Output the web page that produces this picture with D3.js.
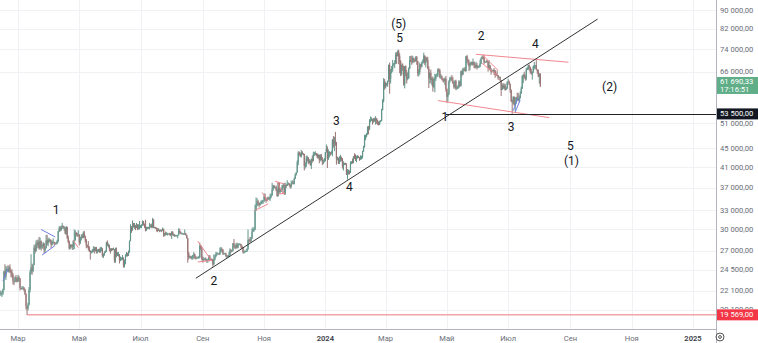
<!DOCTYPE html>
<html>
<head>
<meta charset="utf-8">
<script src="https://cdn.jsdelivr.net/npm/d3@7"></script>
<style>
  html, body { margin: 0; padding: 0; background: #fff; }
  svg { display: block; font-family: Roboto, "Liberation Sans", sans-serif; }
</style>
</head>
<body>
<svg id="chart" width="758" height="343"></svg>
<script>
// BTC daily candles, values in thousands of USD, grouped by month.
const monthStarts = [
  "2023-02-11","2023-03-01","2023-04-01","2023-05-01","2023-06-01","2023-07-01",
  "2023-08-01","2023-09-01","2023-10-01","2023-11-01","2023-12-01","2024-01-01",
  "2024-02-01","2024-03-01","2024-04-01","2024-05-01","2024-06-01","2024-07-01","2024-08-01"
];
const firstOpen = 21.9;

const closeK = [
  [21.8,21.8,21.8,22.2,24.3,23.7,24.6,24.6,24.3,24.8,24.4,24.2,23.9,23.2,23.1,23.6,23.5,23.1],
  [23.6,23.5,22.4,22.3,22.4,22.4,22.2,21.7,20.4,20.2,20.6,22.2,24.2,24.8,24.4,25.1,27.4,26.9,28.0,27.8,28.2,27.3,28.3,27.5,27.5,28.0,27.1,27.3,28.4,28.0,28.5],
  [28.5,28.2,27.8,28.2,28.2,28.0,27.9,28.0,28.3,29.7,30.2,29.9,30.4,30.5,30.3,30.3,29.4,30.4,28.8,28.2,27.3,27.8,27.6,27.5,28.3,28.4,29.5,29.3,29.2,29.2],
  [28.1,28.7,29.0,28.8,29.5,28.9,28.4,27.7,27.6,27.4,27.0,26.8,26.8,26.9,27.2,27.0,27.4,26.8,26.9,27.1,26.8,27.2,27.3,26.3,26.5,26.7,26.9,28.1,27.7,27.7,27.2],
  [27.0,27.3,27.1,27.2,25.7,27.2,26.3,26.5,26.5,25.8,25.9,25.9,25.9,25.1,25.6,26.3,26.5,26.3,26.8,28.3,30.0,29.9,30.7,30.5,30.5,30.3,30.7,30.1,30.4,30.5],
  [30.6,30.6,31.2,30.8,30.5,29.9,30.3,30.3,30.2,30.4,30.6,30.4,31.5,30.3,30.3,30.2,30.1,29.9,29.9,29.8,29.9,29.8,30.1,29.2,29.4,29.2,29.3,29.3,29.4,29.3,29.2],
  [29.7,29.2,29.2,29.1,29.1,29.1,29.2,29.8,29.6,29.4,29.4,29.4,29.3,29.4,29.2,28.7,26.6,26.1,26.2,26.1,26.1,26.4,26.5,26.2,26.0,26.0,26.1,26.1,27.7,27.3,25.9],
  [25.8,25.9,25.9,25.8,25.8,25.8,26.2,25.9,25.9,25.8,25.2,25.8,26.2,26.5,26.6,26.6,26.5,26.8,27.2,27.1,26.6,26.6,26.6,26.3,26.3,26.2,26.4,27.0,26.9,27.0],
  [28.0,27.5,27.4,27.8,27.4,27.9,27.9,27.9,27.6,27.4,26.8,26.8,26.9,26.9,27.2,28.5,28.4,28.3,28.7,29.7,30.0,30.0,33.1,33.9,34.5,34.2,33.9,34.1,34.5,34.5,34.7],
  [35.4,34.9,34.7,35.1,35.0,35.0,35.4,35.6,36.7,37.3,37.1,37.1,36.5,35.5,37.9,36.2,36.6,36.6,37.4,37.5,35.8,37.4,37.3,37.7,37.8,37.5,37.2,37.8,37.9,37.7],
  [38.7,39.5,39.9,42.0,44.1,43.8,43.3,44.2,43.8,43.8,41.2,41.5,42.9,43.0,41.9,42.3,41.4,42.7,42.3,43.7,43.9,44.0,43.7,43.0,43.6,42.5,43.4,42.6,42.1,42.1,42.3],
  [44.2,45.0,42.8,44.2,44.2,43.9,43.9,46.9,46.1,46.6,46.3,42.8,42.8,41.7,42.5,43.1,42.7,41.3,41.6,41.7,41.6,39.5,39.9,40.1,39.9,41.8,42.1,42.0,43.3,42.9,42.6],
  [43.1,43.2,43.0,42.6,42.7,43.1,44.3,45.3,47.1,47.8,48.3,50.0,49.7,51.8,52.0,52.1,51.6,52.1,51.8,52.3,51.8,51.3,50.7,51.6,51.7,54.5,57.1,62.5,61.2],
  [62.4,62.0,63.1,68.3,63.8,66.1,66.9,68.3,68.5,69.0,72.1,71.5,73.1,71.4,69.5,65.3,68.4,67.6,62.0,67.9,65.5,63.8,64.0,67.2,70.0,69.9,69.5,70.8,69.9,69.6,71.3],
  [69.7,65.5,66.0,68.5,67.8,68.9,69.4,71.6,69.1,70.6,70.0,67.1,63.9,65.7,63.4,63.8,61.3,63.5,63.8,64.9,64.9,66.8,66.4,64.3,64.5,63.8,63.4,63.1,63.8,60.6],
  [58.3,59.1,62.9,63.9,64.0,63.2,62.3,61.2,63.0,60.8,60.8,61.5,62.9,61.6,66.2,65.2,67.0,67.0,66.3,71.4,70.1,69.1,67.9,68.5,69.3,68.5,69.4,68.3,67.6,68.3,67.5],
  [67.7,67.8,68.8,70.5,71.1,70.8,69.3,69.3,69.6,69.5,67.3,68.2,66.8,66.0,66.2,66.6,66.5,65.2,65.0,64.9,64.1,64.3,63.2,60.3,61.8,60.9,61.6,60.3,60.9,62.7],
  [62.8,62.0,60.2,57.0,56.7,58.2,55.9,56.7,58.0,57.7,57.3,57.9,59.2,60.8,64.7,65.0,64.1,63.9,66.7,67.1,68.2,67.6,65.9,65.4,65.8,67.9,68.0,68.2,66.8,66.2,64.6],
  [65.3,61.69033]
];
const highK = [
  [22.1,22.1,22.0,22.3,24.4,25.2,25.0,24.9,25.1,25.0,25.2,24.5,24.6,24.1,23.2,23.7,23.9,23.6],
  [23.9,23.8,23.5,22.4,22.6,22.6,22.5,22.3,21.8,20.3,20.8,22.5,24.5,26.5,25.3,25.2,27.8,27.8,28.4,28.5,28.5,28.9,28.8,28.4,27.8,28.2,28.0,27.5,29.2,29.2,28.7],
  [28.8,28.6,28.5,28.4,28.7,28.2,28.1,28.2,28.5,29.8,30.5,30.5,30.6,31.0,30.6,30.5,30.3,30.5,30.4,29.1,28.4,27.9,27.8,27.9,28.4,30.0,29.9,29.6,29.5,29.9],
  [29.3,28.9,29.3,29.3,29.7,29.8,29.1,28.6,27.8,28.3,27.6,26.9,27.0,27.2,27.6,27.5,27.5,27.5,27.2,27.2,27.3,27.5,27.5,27.3,26.6,26.9,27.0,28.2,28.4,28.0,27.8],
  [27.3,27.3,27.3,27.4,27.2,27.4,27.4,26.8,26.8,26.5,26.2,26.1,26.4,26.1,25.8,26.5,26.8,26.7,27.0,28.4,30.8,30.5,31.4,31.0,31.0,30.7,31.0,30.8,30.8,31.3],
  [30.7,30.8,31.4,31.3,30.9,31.5,30.4,30.4,30.4,31.0,30.8,30.9,31.8,31.6,30.4,30.4,30.3,30.2,30.2,30.0,30.0,30.0,30.3,30.1,29.5,29.7,29.6,29.5,29.4,29.5,29.5],
  [29.7,29.7,29.4,29.3,29.2,29.2,29.2,30.2,30.1,29.7,29.5,29.5,29.4,30.0,29.5,29.2,28.8,26.8,26.3,26.3,26.3,26.4,26.8,26.6,26.3,26.1,26.2,26.3,28.1,27.6,27.5],
  [26.2,26.1,26.0,26.1,25.9,25.9,26.4,26.4,26.0,25.9,25.9,26.5,26.4,26.8,26.8,26.7,26.6,27.4,27.5,27.4,27.2,26.7,26.7,26.7,26.4,26.4,26.8,27.3,27.2,27.1],
  [28.0,28.6,27.6,28.0,28.1,28.0,28.0,28.0,27.9,27.7,27.5,26.9,27.1,26.9,27.3,30.0,28.6,28.9,28.9,30.2,30.4,30.2,34.0,35.2,35.1,34.8,34.3,34.4,34.7,34.8,34.7],
  [35.9,35.9,34.9,35.3,35.4,35.3,35.9,35.9,37.9,37.5,37.5,37.2,37.4,36.8,38.0,37.9,36.8,36.9,37.5,37.7,37.9,37.9,37.6,38.4,38.0,37.8,37.6,38.3,38.4,38.2],
  [38.9,39.7,40.0,42.4,44.4,44.3,44.0,44.7,44.4,44.0,43.8,42.0,43.4,43.4,43.1,42.7,42.4,42.8,43.4,44.3,44.2,44.4,44.0,43.9,43.7,43.6,43.7,43.8,43.1,42.6,42.9],
  [44.2,45.9,45.5,44.8,44.4,44.2,44.5,47.2,47.9,47.7,48.9,46.5,43.2,43.0,43.3,43.6,43.2,42.9,42.2,41.9,41.9,41.8,40.6,40.5,40.3,42.2,42.2,42.8,43.3,43.9,43.7],
  [43.4,43.5,43.4,43.1,43.5,43.4,44.5,45.6,48.2,48.2,48.6,50.3,50.4,52.1,52.8,52.6,52.2,52.4,52.5,52.9,52.4,52.0,51.5,51.7,51.9,54.9,57.6,64.0,63.7],
  [62.9,62.4,63.2,68.5,69.2,67.0,68.0,70.1,69.0,70.0,72.8,72.9,73.6,73.8,72.4,70.0,68.5,68.9,68.0,68.0,68.2,66.6,65.9,67.5,71.5,71.5,71.7,71.5,70.9,70.3,71.3],
  [71.4,69.6,66.9,69.2,68.7,69.6,70.3,72.7,71.7,71.2,71.2,71.2,67.9,65.8,66.8,64.3,64.5,64.1,65.4,65.3,65.6,67.2,67.2,67.0,65.3,64.8,63.9,64.0,64.2,64.7],
  [60.8,59.6,63.3,64.4,64.5,65.0,64.4,62.9,63.4,63.5,61.4,61.8,63.4,63.1,66.4,66.7,67.4,67.4,67.7,71.5,71.9,70.6,70.1,69.2,69.5,69.5,70.6,69.5,68.9,69.5,69.0],
  [68.0,68.4,70.2,71.0,71.7,71.6,71.9,69.5,69.9,70.2,69.6,70.0,68.4,67.3,66.6,66.9,67.3,66.6,65.7,66.5,65.0,64.5,64.5,63.4,62.3,62.4,62.3,62.2,61.2,63.0],
  [63.8,63.2,62.3,60.5,57.5,58.5,58.4,58.2,58.3,59.5,59.4,58.6,59.9,61.4,64.9,65.4,66.1,65.1,67.4,67.6,68.4,68.5,67.8,67.1,66.2,68.2,69.4,68.3,70.0,66.9,66.8],
  [65.6,65.6]
];
const lowK = [
  [21.6,21.5,21.4,21.6,22.1,23.5,23.3,24.4,24.2,24.2,24.1,23.6,23.6,22.8,22.7,23.0,23.1,23.0],
  [23.1,23.2,22.1,22.2,22.2,22.2,22.0,21.6,20.1,19.569,20.0,20.5,21.9,24.0,23.9,24.2,25.1,26.6,26.9,27.3,27.4,27.1,27.2,27.0,27.2,27.4,26.6,26.7,27.3,27.7,27.6],
  [28.2,28.0,27.3,27.7,28.0,27.7,27.8,27.8,27.9,28.1,29.6,29.7,29.8,30.1,30.1,29.8,29.3,29.2,28.6,28.0,27.1,27.2,27.4,27.1,27.1,27.2,28.9,29.0,28.9,29.0],
  [27.7,27.9,28.4,28.7,28.7,28.8,28.1,27.3,27.4,27.0,26.8,25.8,26.6,26.7,26.8,26.6,26.9,26.6,26.6,26.8,26.7,26.7,26.9,26.1,26.0,26.3,26.7,26.8,27.6,27.4,26.9],
  [26.6,26.9,27.0,27.1,25.4,25.4,26.1,26.3,26.2,25.3,25.6,25.7,25.8,24.8,24.8,25.2,26.2,26.2,26.3,26.7,28.3,29.5,29.8,30.3,30.1,29.9,30.2,29.9,30.0,30.0],
  [30.2,30.2,30.6,30.6,30.2,29.7,29.8,30.1,30.1,30.0,30.3,30.2,30.2,30.2,30.2,30.1,29.7,29.6,29.8,29.6,29.7,29.6,29.8,28.9,29.0,29.1,29.2,29.1,29.3,29.1,29.0],
  [28.6,29.1,29.0,28.9,29.0,29.0,28.7,29.1,29.4,29.3,29.3,29.3,29.2,29.2,29.1,28.7,25.4,25.8,26.0,25.9,25.8,25.8,25.9,25.9,25.8,25.9,26.0,25.9,26.0,27.1,25.7],
  [25.4,25.6,25.7,25.6,25.4,25.4,25.6,25.7,25.8,25.6,24.9,25.1,25.7,26.1,26.3,26.5,26.4,26.4,26.7,26.9,26.4,26.5,26.5,26.1,26.0,26.1,26.1,26.3,26.7,26.8],
  [26.9,27.4,27.2,27.2,27.3,27.3,27.8,27.7,27.3,27.2,26.6,26.6,26.7,26.8,26.8,27.1,28.1,28.1,28.2,28.6,29.6,29.7,29.9,32.9,33.7,33.8,33.5,33.8,34.0,34.1,34.1],
  [34.4,34.6,34.3,34.6,34.8,34.8,34.6,35.1,35.5,36.4,36.8,36.9,36.3,35.3,35.4,35.9,35.9,36.2,36.2,36.9,35.7,35.7,36.9,37.3,37.5,37.2,36.8,36.9,37.6,37.6],
  [37.6,38.6,39.3,39.9,41.4,43.4,43.1,43.0,43.6,43.5,40.3,40.7,41.0,42.2,41.6,41.8,41.3,40.6,41.9,42.2,43.3,43.5,43.3,42.8,42.8,41.8,42.2,42.4,41.4,41.6,42.0],
  [42.2,44.1,40.8,42.5,43.0,43.4,43.7,43.3,45.2,44.4,45.6,41.5,42.4,41.7,41.7,42.1,42.2,40.7,40.3,41.4,41.5,39.4,38.5,39.5,39.5,39.8,41.6,41.7,41.8,42.7,42.3],
  [42.0,42.8,42.9,42.3,42.6,42.6,42.8,44.3,45.2,46.9,47.6,48.2,48.3,49.3,51.3,51.6,50.7,51.2,51.4,50.7,50.9,50.6,50.5,50.6,51.3,51.6,54.5,56.7,60.4],
  [60.8,61.5,61.3,62.8,59.2,62.3,65.5,66.1,68.1,67.3,68.7,68.7,71.3,68.6,65.6,64.6,64.8,66.4,61.6,60.8,64.6,62.3,63.3,63.8,66.9,69.3,68.4,68.9,69.1,69.3,69.6],
  [68.4,64.6,64.5,65.1,66.9,67.6,69.1,68.9,68.3,67.5,69.6,66.9,60.9,62.3,62.4,61.7,59.8,60.8,59.6,63.1,64.5,64.3,65.9,63.9,63.8,63.3,62.8,62.5,61.8,59.8],
  [56.5,56.9,58.8,62.6,63.4,63.0,62.2,60.7,60.7,60.2,60.5,60.6,60.9,61.2,61.4,64.6,65.0,66.6,66.1,66.1,69.2,68.4,66.3,66.6,68.4,68.1,68.2,67.3,67.1,67.2,66.8],
  [67.3,67.4,67.6,68.6,70.4,70.2,68.6,69.1,69.2,69.1,66.1,66.9,66.4,65.1,65.9,66.0,65.0,64.1,64.7,64.6,63.4,64.0,63.2,58.5,60.3,60.6,60.5,60.1,60.4,60.6],
  [62.6,61.8,59.4,56.8,53.5,56.2,55.8,54.3,56.3,57.2,57.1,56.6,57.8,59.5,60.6,62.4,63.9,63.2,63.3,66.6,66.7,66.5,65.5,65.1,63.5,65.7,66.8,67.1,66.7,65.4,64.3],
  [62.3,61.2]
];

// Price axis ticks and time axis labels
const priceTicks = [20100, 22100, 24500, 27000, 30000, 33000, 37000, 41000, 45000, 51000, 66000, 74000, 82000, 90000];
const timeTicks = [
  ["2023-03-01","Мар"],["2023-05-01","Май"],["2023-07-01","Июл"],["2023-09-01","Сен"],
  ["2023-11-01","Ноя"],["2024-01-01","2024"],["2024-03-01","Мар"],["2024-05-01","Май"],
  ["2024-07-01","Июл"],["2024-09-01","Сен"],["2024-11-01","Ноя"],["2025-01-01","2025"]
];

// Wave labels: [date, price, text]
const waveLabels = [
  ["2023-04-08", 33100, "1"],
  ["2023-09-12", 23200, "2"],
  ["2024-01-12", 51600, "3"],
  ["2024-01-25", 37100, "4"],
  ["2024-03-14", 84000, "(5)"],
  ["2024-03-15", 78400, "5"],
  ["2024-04-29", 52700, "1"],
  ["2024-06-04", 79000, "2"],
  ["2024-07-04", 50100, "3"],
  ["2024-07-28", 75900, "4"],
  ["2024-10-10", 61200, "(2)"],
  ["2024-09-01", 45600, "5"],
  ["2024-09-02", 42300, "(1)"]
];

// Trend and channel lines: [date1, price1, date2, price2]
const trendLine = ["2023-08-25", 23500, "2024-09-28", 86000];
const redLines = [
  ["2024-05-30", 72100, "2024-08-30", 69300],
  ["2024-04-22", 57200, "2024-08-11", 52500],
  ["2024-06-06", 71700, "2024-06-21", 66500],
  ["2024-06-05", 68900, "2024-06-20", 64900],
  ["2023-08-27", 28300, "2023-09-10", 25600],
  ["2023-08-27", 25500, "2023-09-10", 25700],
  ["2023-10-23", 33000, "2023-11-05", 34100],
  ["2023-10-30", 36100, "2023-11-05", 34500],
  ["2023-11-12", 38200, "2023-11-22", 37600],
  ["2023-11-15", 35800, "2023-11-22", 36000],
  ["2023-11-14", 38000, "2023-11-20", 35900],
  ["2023-04-25", 28400, "2023-04-30", 27400]
];
const blueLines = [
  ["2023-03-24", 30000, "2023-04-07", 28900],
  ["2023-03-25", 26400, "2023-04-07", 27700],
  ["2023-02-14", 23200, "2023-02-19", 24600],
  ["2024-07-06", 54400, "2024-07-11", 58000],
  ["2024-07-08", 54000, "2024-07-13", 57400]
];
const supportLevel = 53500;
const lowLevel = 19569;
const lastPrice = 61690.33;
const countdown = "17:16:51";

const W = 758, H = 343;
const plotRight = 716, plotBottom = 329;
const svg = d3.select("#chart");

const x = d3.scaleUtc()
  .domain([new Date("2023-03-01"), new Date("2025-01-01")])
  .range([18, 693]);
const y = d3.scaleLog()
  .domain([20100, 90000])
  .range([309.5, 10]);

const ruLocale = d3.formatLocale({decimal: ",", thousands: "\u00a0", grouping: [3], currency: ["", ""]});
const fmtPrice = ruLocale.format(",.2f");

// Build candles
const candles = [];
let prevClose = firstOpen;
monthStarts.forEach((ms, mi) => {
  const start = new Date(ms);
  closeK[mi].forEach((c, i) => {
    const date = d3.utcDay.offset(start, i);
    const o = prevClose;
    candles.push({date, o: o * 1000, h: Math.max(highK[mi][i], o, c) * 1000, l: Math.min(lowK[mi][i], o, c) * 1000, c: c * 1000});
    prevClose = c;
  });
});

const defs = svg.append("defs");
defs.append("clipPath").attr("id", "plotClip")
  .append("rect").attr("x", 0).attr("y", 0).attr("width", plotRight).attr("height", plotBottom);

// Grid
const grid = svg.append("g");
grid.selectAll("line.h").data(priceTicks).join("line")
  .attr("x1", 0).attr("x2", plotRight)
  .attr("y1", d => Math.round(y(d)) + 0.5).attr("y2", d => Math.round(y(d)) + 0.5)
  .attr("stroke", "#f0f1f4").attr("stroke-width", 1);
grid.selectAll("line.v").data(timeTicks).join("line")
  .attr("x1", d => Math.round(x(new Date(d[0]))) + 0.5).attr("x2", d => Math.round(x(new Date(d[0]))) + 0.5)
  .attr("y1", 0).attr("y2", plotBottom)
  .attr("stroke", "#f0f1f4").attr("stroke-width", 1);

const plot = svg.append("g").attr("clip-path", "url(#plotClip)");

// Low level line
plot.append("line")
  .attr("x1", x(new Date("2023-03-10"))).attr("x2", plotRight)
  .attr("y1", y(lowLevel)).attr("y2", y(lowLevel))
  .attr("stroke", "#f4a3ab").attr("stroke-width", 1.5);

// Candles
const upColor = "#62958a", downColor = "#9a7474";
plot.append("g").selectAll("line").data(candles).join("line")
  .attr("x1", d => x(d.date)).attr("x2", d => x(d.date))
  .attr("y1", d => y(d.h)).attr("y2", d => y(d.l))
  .attr("stroke", d => d.c >= d.o ? upColor : downColor)
  .attr("stroke-width", 1);
plot.append("g").selectAll("rect").data(candles).join("rect")
  .attr("x", d => x(d.date) - 0.6)
  .attr("width", 1.2)
  .attr("y", d => y(Math.max(d.o, d.c)))
  .attr("height", d => Math.max(0.8, Math.abs(y(d.o) - y(d.c))))
  .attr("fill", d => d.c >= d.o ? upColor : downColor);

// Drawings
function seg(g, d, color, width) {
  g.append("line")
    .attr("x1", x(new Date(d[0]))).attr("y1", y(d[1]))
    .attr("x2", x(new Date(d[2]))).attr("y2", y(d[3]))
    .attr("stroke", color).attr("stroke-width", width);
}
const draw = plot.append("g");
redLines.forEach(d => seg(draw, d, "#f08790", 1));
blueLines.forEach(d => seg(draw, d, "#6f7fe3", 1));
seg(draw, trendLine, "#333", 1);

// Support line
draw.append("line")
  .attr("x1", x(new Date("2024-04-30"))).attr("x2", plotRight)
  .attr("y1", Math.round(y(supportLevel)) + 0.5).attr("y2", Math.round(y(supportLevel)) + 0.5)
  .attr("stroke", "#222").attr("stroke-width", 1);

// Wave labels
svg.append("g").selectAll("text").data(waveLabels).join("text")
  .attr("x", d => x(new Date(d[0])))
  .attr("y", d => y(d[1]))
  .attr("text-anchor", "middle")
  .attr("dominant-baseline", "central")
  .attr("font-size", 12)
  .attr("fill", "#131722")
  .text(d => d[2]);

// Axes frame
svg.append("line").attr("x1", 0).attr("x2", plotRight).attr("y1", plotBottom + 0.5).attr("y2", plotBottom + 0.5)
  .attr("stroke", "#b2b5be");
svg.append("line").attr("x1", plotRight + 0.5).attr("x2", plotRight + 0.5).attr("y1", 0).attr("y2", H)
  .attr("stroke", "#b2b5be");

// Price axis labels (the lowest one sits under the low-level tag, so it is clipped above it)
defs.append("clipPath").attr("id", "axisClip")
  .append("rect").attr("x", plotRight + 1).attr("y", 0).attr("width", W - plotRight).attr("height", y(lowLevel) - 5.5);
svg.append("g").attr("clip-path", "url(#axisClip)").selectAll("text").data(priceTicks).join("text")
  .attr("x", 720).attr("y", d => y(d))
  .attr("dominant-baseline", "central")
  .attr("font-size", 7.6)
  .attr("fill", "#6a6d78")
  .text(d => fmtPrice(d));

// Time axis labels
svg.append("g").selectAll("text").data(timeTicks).join("text")
  .attr("x", d => x(new Date(d[0])))
  .attr("y", 338)
  .attr("text-anchor", "middle")
  .attr("dominant-baseline", "central")
  .attr("font-size", 7.6)
  .attr("font-weight", d => /^\d/.test(d[1]) ? 600 : 400)
  .attr("fill", d => /^\d/.test(d[1]) ? "#3a3d48" : "#6a6d78")
  .text(d => d[1]);

// Price tags on the axis
function tag(price, color, lines, h) {
  const cy = y(price);
  const g = svg.append("g");
  g.append("rect").attr("x", plotRight + 1).attr("y", cy - h / 2).attr("width", W - plotRight - 1).attr("height", h)
    .attr("fill", color);
  lines.forEach((t, i) => {
    g.append("text").attr("x", 720).attr("y", cy - (lines.length - 1) * 4 + i * 8)
      .attr("dominant-baseline", "central").attr("font-size", 7.6).attr("fill", "#fff").text(t);
  });
}
tag(lastPrice, "#5fae88", [fmtPrice(lastPrice), countdown], 17);
tag(supportLevel, "#131722", [fmtPrice(supportLevel)], 11);
tag(lowLevel, "#f23645", [fmtPrice(lowLevel)], 11);

// Settings icon
const gear = svg.append("g").attr("transform", "translate(720,337)");
gear.append("circle").attr("r", 4).attr("fill", "none").attr("stroke", "#555").attr("stroke-width", 1);
gear.append("circle").attr("r", 1.4).attr("fill", "none").attr("stroke", "#555").attr("stroke-width", 1);
</script>
</body>
</html>
